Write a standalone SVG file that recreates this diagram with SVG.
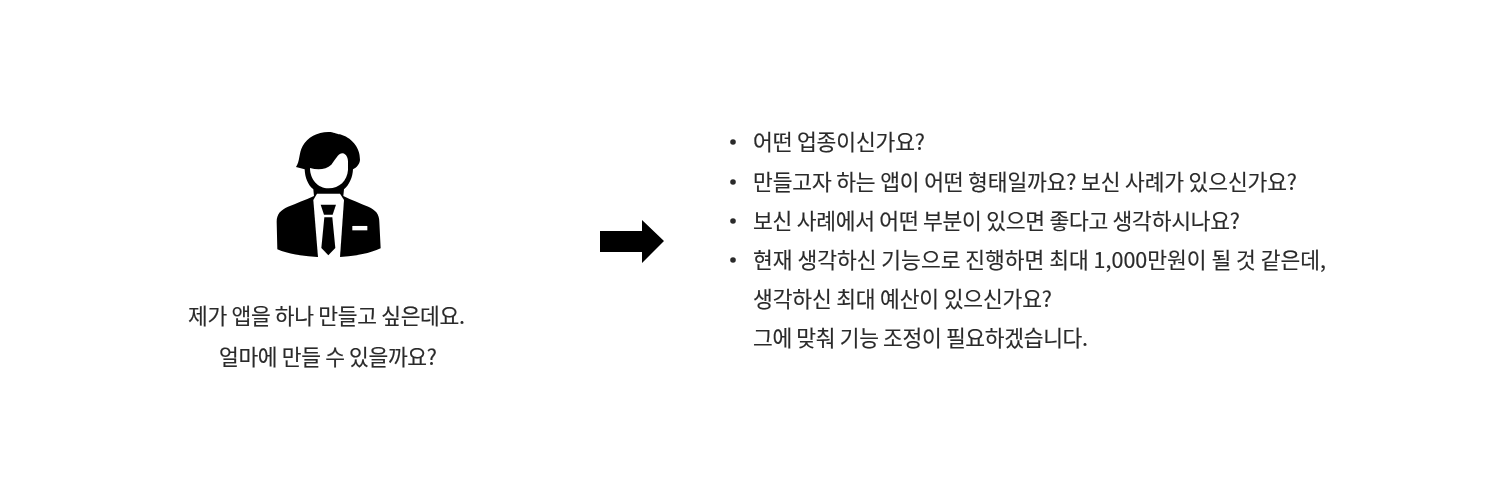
<svg xmlns="http://www.w3.org/2000/svg" width="1492" height="490" viewBox="0 0 1492 490">
<defs><filter id="soft" x="-5%" y="-5%" width="110%" height="110%"><feGaussianBlur stdDeviation="0.5"/></filter><filter id="softer" x="-2%" y="-10%" width="104%" height="120%"><feGaussianBlur stdDeviation="0.3"/></filter></defs>
<style>
text{font-family:"Noto Sans CJK KR","Noto Sans",sans-serif;font-size:21.5px;fill:#2b2b2b;stroke:#2b2b2b;stroke-width:0.15px;}
.c{text-anchor:middle}
</style>
<rect width="1492" height="490" fill="#ffffff"/>
<g id="person" filter="url(#soft)">
<g transform="translate(260,120) scale(0.3333)">
<path fill="#050505" d="M50 305C50 282 62 270 84 260C110 250 135 240 162 228L160 208C143 195 135 172 134 148L108 141C120 125 116 100 128 78C142 52 172 36 205 36C222 36 228 42 240 43C272 52 301 80 300 120C299 133 290 142 279 148C278 172 268 195 252 208L250 228C275 240 300 250 325 260C347 270 358 282 358 305L362 385C330 400 290 408 240 411L172 411C125 408 85 402 52 388Z"/>
<path fill="#ffffff" d="M150 144C172 150 198 150 214 134C226 120 234 100 248 100C258 102 264 112 264 124L264 150C262 182 238 205 206 205C174 205 150 178 150 144Z"/>
<path fill="#ffffff" d="M160 240L171 221L240 221L252 240L240 411L174 411Z"/>
<path fill="#050505" d="M182 254L228 254L218 284L192 284ZM193 292L217 292L226 384L205 406L184 384Z"/>
<rect x="277" y="318" width="45" height="13" fill="#ffffff"/>
</g>
</g>
<g id="client-text" filter="url(#softer)">
<text x="188" y="324" textLength="277" lengthAdjust="spacing">제가 앱을 하나 만들고 싶은데요.</text>
<text x="219" y="365" textLength="218" lengthAdjust="spacing">얼마에 만들 수 있을까요?</text>
</g>
<g id="connectors" filter="url(#soft)">
<path fill="#050505" d="M600 231L642 231L642 220L664 241L642 263L642 252L600 252Z"/>
</g>
<g id="questions" filter="url(#softer)">
<circle cx="733" cy="142" r="2.8" fill="#2b2b2b"/>
<circle cx="733" cy="182" r="2.8" fill="#2b2b2b"/>
<circle cx="733" cy="221" r="2.8" fill="#2b2b2b"/>
<circle cx="733" cy="260" r="2.8" fill="#2b2b2b"/>
<text x="753" y="150" textLength="172" lengthAdjust="spacing">어떤 업종이신가요?</text>
<text x="753" y="190" textLength="544" lengthAdjust="spacing">만들고자 하는 앱이 어떤 형태일까요? 보신 사례가 있으신가요?</text>
<text x="753" y="229" textLength="487" lengthAdjust="spacing">보신 사례에서 어떤 부분이 있으면 좋다고 생각하시나요?</text>
<text x="753" y="268" textLength="573" lengthAdjust="spacing">현재 생각하신 기능으로 진행하면 최대 1,000만원이 될 것 같은데,</text>
<text x="753" y="307" textLength="299" lengthAdjust="spacing">생각하신 최대 예산이 있으신가요?</text>
<text x="753" y="346" textLength="335" lengthAdjust="spacing">그에 맞춰 기능 조정이 필요하겠습니다.</text>
</g>
</svg>
